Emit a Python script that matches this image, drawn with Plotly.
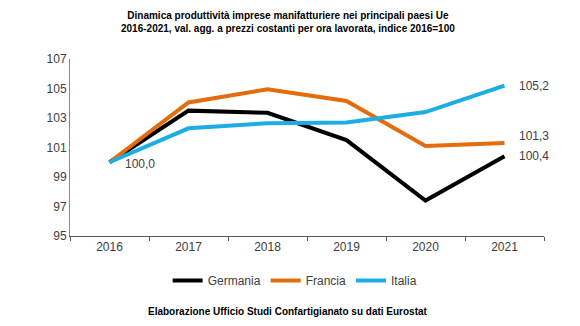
import plotly.graph_objects as go

years = ["2016", "2017", "2018", "2019", "2020", "2021"]
germania = [100.0, 103.5, 103.35, 101.5, 97.4, 100.4]
francia = [100.0, 104.05, 104.95, 104.15, 101.1, 101.3]
italia = [100.0, 102.3, 102.65, 102.7, 103.4, 105.2]
y_ticks = [95, 97, 99, 101, 103, 105, 107]

series = [
    ("Germania", germania, "#000000", 0),
    ("Francia", francia, "#E46C0A", 7),
    ("Italia", italia, "#1CADE4", 0),
]

font = "Liberation Sans, Arial, sans-serif"

def fmt(v):
    return f"{v:.1f}".replace(".", ",")

fig = go.Figure()
for name, vals, color, _ in series:
    fig.add_trace(go.Scatter(
        x=years, y=vals, name=name, mode="lines",
        line=dict(color=color, width=4),
    ))

last = len(years) - 1
# end-of-series value labels
for name, vals, color, lift in series:
    fig.add_annotation(x=last, y=vals[-1], text=fmt(vals[-1]),
                       showarrow=False, xanchor="left", xshift=12, yshift=lift,
                       font=dict(family=font, size=12, color="#404040"))
# starting value label
fig.add_annotation(x=0, y=italia[0], text=fmt(italia[0]),
                   showarrow=False, xanchor="left", yanchor="top",
                   xshift=13, yshift=7,
                   font=dict(family=font, size=12, color="#404040"))

fig.add_annotation(
    text="<b>Dinamica produttività imprese manifatturiere nei principali paesi Ue<br>"
         "2016-2021, val. agg. a prezzi costanti per ora lavorata, indice 2016=100</b>",
    xref="paper", yref="paper", x=0.46, y=1.0, yshift=51,
    showarrow=False, xanchor="center", yanchor="top",
    font=dict(family=font, size=10, color="#000000"),
)
fig.add_annotation(
    text="<b>Elaborazione Ufficio Studi Confartigianato su dati Eurostat</b>",
    xref="paper", yref="paper", x=0.46, y=0.0, yshift=-68,
    showarrow=False, xanchor="center", yanchor="top",
    font=dict(family=font, size=10, color="#000000"),
)

fig.update_layout(
    width=580, height=326,
    margin=dict(l=70, r=36, t=59, b=90),
    paper_bgcolor="white", plot_bgcolor="white",
    font=dict(family=font, size=12, color="#404040"),
    showlegend=True,
    legend=dict(orientation="h", x=0.475, xanchor="center", y=-0.17, yanchor="top",
                font=dict(family=font, size=12, color="#404040"),
                itemwidth=30, tracegroupgap=0),
    xaxis=dict(type="category", tickson="boundaries", ticks="outside",
               ticklen=4, tickcolor="#595959", showline=True,
               linecolor="#595959", linewidth=1, showgrid=False,
               range=[-0.5, 5.5], tickfont=dict(size=12, color="#404040")),
    yaxis=dict(range=[95, 107], tickvals=y_ticks, showline=True,
               linecolor="#888888", linewidth=1, showgrid=False, zeroline=False,
               ticks="", tickfont=dict(size=12, color="#404040")),
)

fig.write_html("out.html")
